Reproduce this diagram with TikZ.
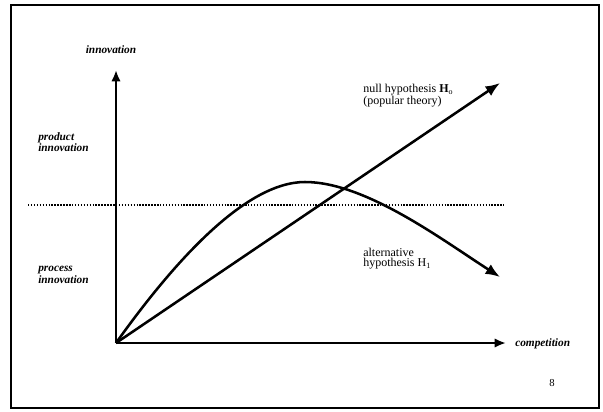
\documentclass[tikz,border=0pt]{standalone}
\usepackage{fontspec}
\setmainfont{Liberation Serif}
\usetikzlibrary{arrows.meta,positioning}
\tikzstyle{axis} = [-{Latex[length=3mm,width=2.5mm]}, line width=2.1pt]
\tikzstyle{hypo} = [-{Latex[length=3.8mm,width=3mm]}, line width=1.9pt]
\tikzstyle{axislabel} = [font=\fontsize{8.5}{7.5}\selectfont\bfseries\itshape, inner sep=0pt]
\tikzstyle{zone} = [axislabel, align=left, anchor=west]
\tikzstyle{hypolabel} = [font=\fontsize{9}{7.5}\selectfont, align=left, anchor=west, inner sep=0pt]
\tikzstyle{threshold} = [dash pattern=on 1.1pt off 1.1pt, line width=1.4pt]

\begin{document}
\begin{tikzpicture}[x=0.75pt, y=-0.75pt]
\useasboundingbox (0,0) rectangle (603,411);
\draw[line width=2pt] (11,5) rectangle (599,408);

\coordinate (origin) at (116,343);
\coordinate (ytip) at (116,70);
\coordinate (xtip) at (506,343);
\coordinate (nulltip) at (500,83);
\coordinate (peak) at (305,182);
\coordinate (alttip) at (500,277);
\coordinate (split west) at (28,205);
\coordinate (split east) at (504,205);

\node[axislabel] (yname) at (111,50) {innovation};
\node[axislabel, anchor=west] (xname) at (515,344) {competition};
\node[zone] (product) at (38,142) {product\\innovation};
\node[zone] (process) at (38,275) {process\\innovation};
\node[hypolabel] (nullname) at (363,96) {null hypothesis \textbf{H}\textsubscript{o}\\(popular theory)};
\node[hypolabel] (altname) at (363,259) {alternative\\hypothesis H\textsubscript{1}};
\node[font=\fontsize{8}{8}\selectfont, inner sep=0pt] (page) at (552,383) {8};

% product / process boundary
\draw[threshold] (split west) -- (split east);

\draw[axis] (origin) -- (ytip);
\draw[axis] (origin) -- (xtip);
\draw[hypo] (origin) -- (nulltip);
\draw[hypo] (origin) .. controls (173,263) and (245,182) .. (peak)
    .. controls (365,182) and (441,239) .. (alttip);
\end{tikzpicture}
\end{document}
